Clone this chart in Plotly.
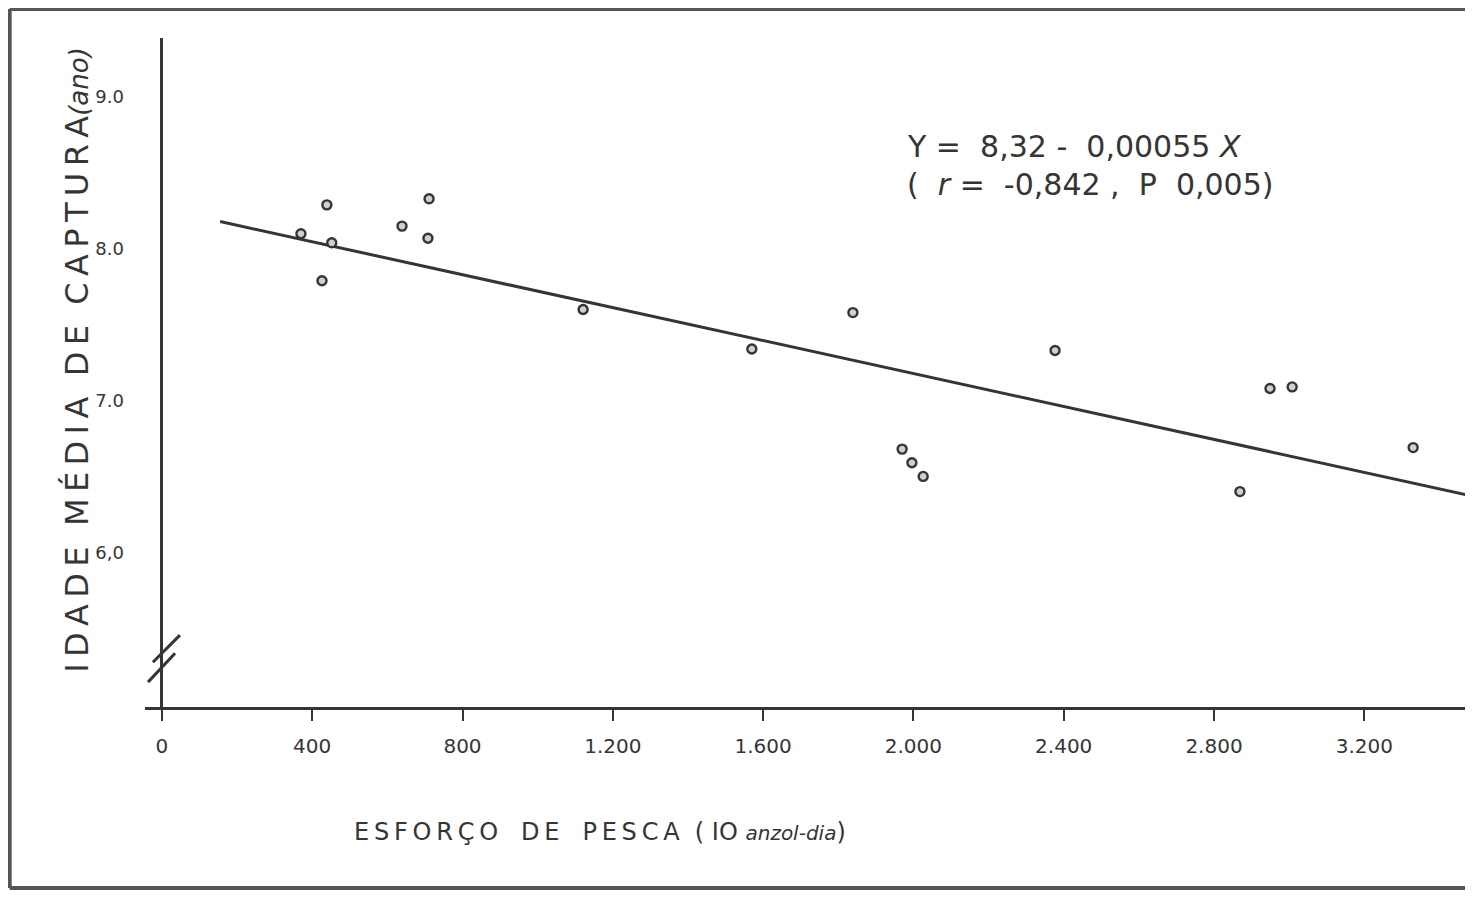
import plotly.graph_objects as go

# Data
esforco = [370, 439, 452, 426, 639, 711, 708, 1121, 1570, 1839, 2377,
           1970, 1996, 2026, 2869, 2949, 3008, 3330]
idade = [8.10, 8.29, 8.04, 7.79, 8.15, 8.33, 8.07, 7.60, 7.34, 7.58, 7.33,
         6.68, 6.59, 6.50, 6.40, 7.08, 7.09, 6.69]

fit_x = [155, 3489]
fit_y = [8.18, 6.37]

x_ticks = [0, 400, 800, 1200, 1600, 2000, 2400, 2800, 3200]
x_labels = ["0", "400", "800", "1.200", "1.600", "2.000", "2.400", "2.800", "3.200"]
y_ticks = [6, 7, 8, 9]
y_labels = ["6,0", "7.0", "8.0", "9.0"]

INK = "#353535"
FONT = "DejaVu Sans"
TS = "\u2009"  # thin space


def spaced(*words, gap="  "):
    return gap.join(TS.join(w) for w in words)


fig = go.Figure()
fig.add_trace(go.Scatter(x=fit_x, y=fit_y, mode="lines",
                         line=dict(color=INK, width=3), hoverinfo="skip",
                         showlegend=False))
fig.add_trace(go.Scatter(x=esforco, y=idade, mode="markers",
                         marker=dict(symbol="circle", size=9, color="#d0d0d0",
                                     line=dict(color=INK, width=2.4)),
                         showlegend=False))

# axis break marks
breaks = [((-24, 5.275), (48, 5.454)), ((-37, 5.144), (35, 5.335))]
for (x0, y0), (x1, y1) in breaks:
    fig.add_shape(type="line", x0=x0, y0=y0, x1=x1, y1=y1, xref="x", yref="y",
                  line=dict(color=INK, width=3))

# scan frame
for (x0, y0, x1, y1) in [(-0.1025, -0.2706, -0.1025, 1.0433),
                         (-0.1025, 1.0433, 1.0, 1.0433),
                         (-0.1025, -0.2706, 1.0, -0.2706)]:
    fig.add_shape(type="line", xref="paper", yref="paper", x0=x0, y0=y0, x1=x1, y1=y1,
                  line=dict(color="#555555", width=4))

fig.add_annotation(x=1978, y=8.675, xref="x", yref="y", xanchor="left",
                   text="Y =  8,32 -  0,00055 <i>X</i>", showarrow=False,
                   font=dict(family=FONT, size=30, color=INK))
fig.add_annotation(x=1978, y=8.425, xref="x", yref="y", xanchor="left",
                   text="(  <i>r</i> =  -0,842 ,  P  0,005)", showarrow=False,
                   font=dict(family=FONT, size=30, color=INK))

ytitle = (spaced("IDADE", "MÉDIA", "DE", "CAPTURA")
          + "<i><span style='font-size:26px'>(ano)</span></i>")
fig.add_annotation(x=-0.0515, y=0.519, xref="paper", yref="paper", textangle=-90,
                   xanchor="center", yanchor="middle",
                   text=ytitle, showarrow=False,
                   font=dict(family=FONT, size=32, color=INK))
xtitle = (spaced("ESFORÇO", "DE", "PESCA", gap="   ")
          + "  ( IO <i><span style='font-size:20px'>anzol-dia</span></i>)")
fig.add_annotation(x=0.345, y=-0.187, xref="paper", yref="paper",
                   xanchor="center", yanchor="middle",
                   text=xtitle, showarrow=False,
                   font=dict(family=FONT, size=24, color=INK))

fig.update_xaxes(range=[-45, 3468], tickvals=x_ticks, ticktext=x_labels,
                 showgrid=False, zeroline=True, zerolinecolor=INK, zerolinewidth=3,
                 showline=True, linecolor=INK, linewidth=3,
                 ticks="outside", ticklen=11, tickwidth=2, tickcolor=INK,
                 ticklabelstandoff=8,
                 tickfont=dict(family=FONT, size=20, color=INK))
fig.update_yaxes(range=[4.98, 9.39], tickvals=y_ticks, ticktext=y_labels,
                 showgrid=False, zeroline=False, showline=False, ticks="",
                 ticklabelstandoff=20,
                 tickfont=dict(family=FONT, size=18, color=INK))

fig.update_layout(width=1457, height=882, autosize=False,
                  margin=dict(l=137, r=0, t=30, b=183),
                  plot_bgcolor="white", paper_bgcolor="white")

fig.write_html("out.html")
